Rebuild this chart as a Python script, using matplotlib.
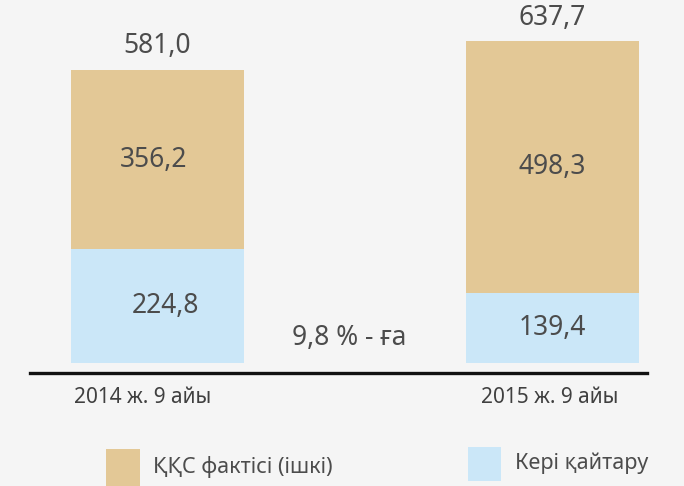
import matplotlib
matplotlib.use("Agg")
import matplotlib.pyplot as plt
from matplotlib.patches import Rectangle

plt.rcParams['font.family'] = ['Noto Sans', 'DejaVu Sans']

categories = ["2014 ж. 9 айы", "2015 ж. 9 айы"]
refund = [224.8, 139.4]          # Кері қайтару
vat_internal = [356.2, 498.3]    # ҚҚС фактісі (ішкі)
totals = [581.0, 637.7]
total_labels = ["581,0", "637,7"]
refund_labels = ["224,8", "139,4"]
vat_labels = ["356,2", "498,3"]
growth_label = "9,8 % - ға"
legend_labels = ["ҚҚС фактісі (ішкі)", "Кері қайтару"]

TAN = "#E3C896"
BLUE = "#CBE7F8"
BG = "#F5F5F5"
TXT = "#4C4C4C"

W, H = 684, 486
fig = plt.figure(figsize=(W / 100, H / 100), dpi=100, facecolor=BG)

# axes: spine line at y=373 px from top, spanning x 30..647 px
ax_left, ax_right, ax_bottom_px = 30, 647, 373
ax = fig.add_axes([ax_left / W, (H - ax_bottom_px) / H, (ax_right - ax_left) / W, ax_bottom_px / H])
ax.set_facecolor(BG)

x = [0, 1]
width = 173 / 395
ax.bar(x, refund, width=width, color=BLUE, linewidth=0)
ax.bar(x, vat_internal, width=width, bottom=refund, color=TAN, linewidth=0)

px_per_unit = 322 / 637.7
gap = 10 / px_per_unit
ax.set_ylim(-gap, ax_bottom_px / px_per_unit - gap)
ax.set_xlim(-127.5 / 395, 1 + 94.5 / 395)

for s in ["top", "left", "right"]:
    ax.spines[s].set_visible(False)
ax.spines["bottom"].set_position(("data", -gap))
ax.spines["bottom"].set_linewidth(2.4)
ax.spines["bottom"].set_color("#111111")
ax.set_xticks([])
ax.set_yticks([])

fs = 19
for i in range(2):
    ax.text(x[i] + (0.02 if i == 0 else 0), refund[i] / 2, refund_labels[i],
            ha="center", va="center", fontsize=fs, color=TXT)
    ax.text(x[i] - (0.01 if i == 0 else 0), refund[i] + vat_internal[i] / 2, vat_labels[i],
            ha="center", va="center", fontsize=fs, color=TXT)
    ax.text(x[i], totals[i] + 46, total_labels[i],
            ha="center", va="center", fontsize=fs, color=TXT)

ax.text(0.5 - 0.015, 50, growth_label, ha="center", va="center", fontsize=fs, color=TXT)

# category labels
cat_x_px = [143, 550]
for cx, lab in zip(cat_x_px, categories):
    fig.text(cx / W, 1 - 397 / H, lab, ha="center", va="center", fontsize=15, color="#404040")

# legend
fig.patches.append(Rectangle((106 / W, 1 - 486 / H), 34 / W, 37 / H, transform=fig.transFigure,
                             facecolor=TAN, edgecolor="none", figure=fig))
fig.text(153 / W, 1 - 467 / H, legend_labels[0], ha="left", va="center", fontsize=15.5, color=TXT)
fig.patches.append(Rectangle((468 / W, 1 - 481 / H), 33 / W, 34 / H, transform=fig.transFigure,
                             facecolor=BLUE, edgecolor="none", figure=fig))
fig.text(515 / W, 1 - 463 / H, legend_labels[1], ha="left", va="center", fontsize=15.5, color=TXT)

fig.savefig("out.png", dpi=100, facecolor=BG)
